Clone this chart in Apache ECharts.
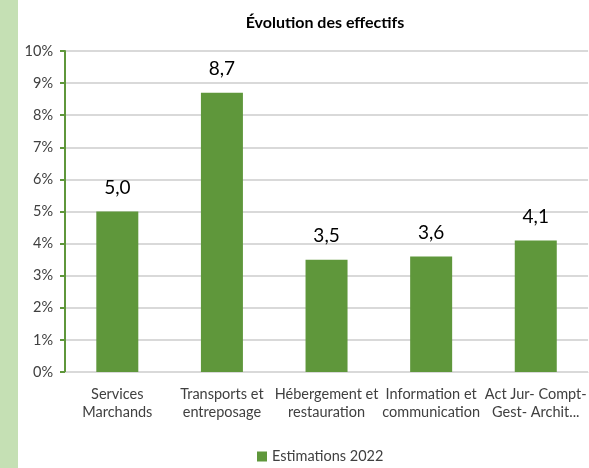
<!DOCTYPE html>
<html>
<head>
<meta charset="utf-8">
<script src="https://cdn.jsdelivr.net/npm/echarts@6/dist/echarts.min.js"></script>
<style>
html,body{margin:0;padding:0;background:#fff;}
#chart{width:589px;height:468px;}
</style>
</head>
<body>
<div id="chart"></div>
<script>
let categories=['Services\nMarchands','Transports et\nentreposage','Hébergement et\nrestauration','Information et\ncommunication','Act Jur- Compt-\nGest- Archit...'];
let values=[5.0,8.7,3.5,3.6,4.1];
let seriesName='Estimations 2022';
let titleText='Évolution des effectifs';

let myChart=echarts.init(document.getElementById('chart'),null,{renderer:'canvas'});
let option={
    animation:false,
    textStyle:{fontFamily:'Lato'},
    title:{
        text:titleText,
        left:320,
        top:10,
        textAlign:'center',
        textStyle:{fontSize:16,fontWeight:'bold',color:'#000',fontFamily:'Lato'}
    },
    graphic:[{
        type:'rect',
        shape:{x:0,y:0,width:18,height:468},
        style:{fill:'#c5e0b4'}
    }],
    legend:{
        data:[seriesName],
        bottom:-1,
        left:252,
        itemWidth:10,
        itemHeight:10,
        icon:'rect',
        itemGap:5,
        textStyle:{fontSize:14.5,color:'#404040'}
    },
    grid:{left:65,right:-6,top:51,bottom:96},
    xAxis:{
        type:'category',
        data:categories,
        axisLine:{lineStyle:{color:'#d9d9d9',width:1}},
        axisTick:{show:false},
        axisLabel:{fontSize:14.5,color:'#404040',lineHeight:18,margin:13,interval:0}
    },
    yAxis:{
        type:'value',
        min:0,
        max:10,
        interval:1,
        axisLine:{show:true,lineStyle:{color:'#5f973b',width:2}},
        axisTick:{show:true,length:5,lineStyle:{color:'#5f973b',width:2}},
        splitLine:{lineStyle:{color:'#d9d9d9',width:2}},
        axisLabel:{fontSize:14.5,color:'#404040',margin:12,formatter:function(v){return v+'%';}}
    },
    series:[{
        name:seriesName,
        type:'bar',
        data:values,
        barWidth:42,
        itemStyle:{color:'#5f973b'},
        label:{
            show:true,
            position:'top',
            distance:14,
            fontSize:19,
            color:'#000',
            formatter:function(p){return p.value.toFixed(1).replace('.',',');}
        }
    }]
};
myChart.setOption(option);
</script>
</body>
</html>
